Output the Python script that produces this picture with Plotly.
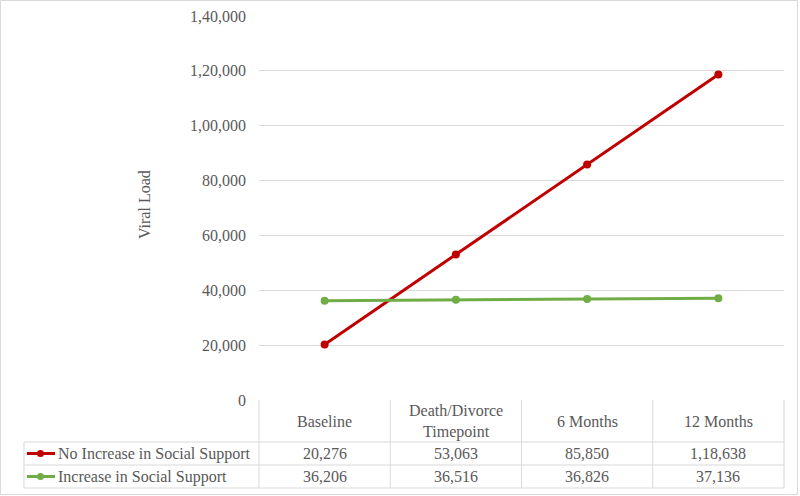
import plotly.graph_objects as go

# chart data
timepoints = ["Baseline", "Death/Divorce<br>Timepoint", "6 Months", "12 Months"]
no_increase = [20276, 53063, 85850, 118638]
with_increase = [36206, 36516, 36826, 37136]
series_names = ["No Increase in Social Support", "Increase in Social Support"]
series_colors = ["#C00000", "#70AD47"]
y_ticks = [0, 20000, 40000, 60000, 80000, 100000, 120000, 140000]

FONT = "Liberation Serif"
GRID = "#D9D9D9"
TXT = "#595959"

W, H = 800, 496
L, R, T, B = 259, 784, 16, 400  # plot area in pixels


def indian(n):
    # Indian digit grouping, e.g. 1,18,638
    s = str(n)
    if len(s) <= 3:
        return s
    last3, rest = s[-3:], s[:-3]
    groups = []
    while len(rest) > 2:
        groups.insert(0, rest[-2:])
        rest = rest[:-2]
    if rest:
        groups.insert(0, rest)
    return ",".join(groups + [last3])


def px(x):
    return (x - L) / (R - L)


def py(y):
    return (B - y) / (B - T)


fig = go.Figure()
for name, vals, col in zip(series_names, [no_increase, with_increase], series_colors):
    fig.add_trace(go.Scatter(
        x=timepoints, y=vals, name=name, mode="lines+markers",
        line=dict(color=col, width=3),
        marker=dict(color=col, size=8),
        showlegend=False,
    ))

shapes = []
line = dict(color=GRID, width=1)
# outer chart border
shapes.append(dict(type="rect", xref="paper", yref="paper",
                   x0=px(0.5), x1=px(797.5), y0=py(0.5), y1=py(494.5), line=line))
# table horizontal rules
for yy in [442, 465, 488]:
    shapes.append(dict(type="line", xref="paper", yref="paper",
                       x0=px(24), x1=px(R), y0=py(yy), y1=py(yy), line=line))
# table vertical rules
shapes.append(dict(type="line", xref="paper", yref="paper",
                   x0=px(24), x1=px(24), y0=py(442), y1=py(488), line=line))
col_w = (R - L) / len(timepoints)
for i in range(len(timepoints) + 1):
    xx = L + i * col_w
    shapes.append(dict(type="line", xref="paper", yref="paper",
                       x0=px(xx), x1=px(xx), y0=py(400), y1=py(488), line=line))

annotations = []
tfont = dict(family=FONT, size=16, color=TXT)
# header + values
for i, tp in enumerate(timepoints):
    annotations.append(dict(x=tp, y=py(421), xref="x", yref="paper", text=tp,
                            showarrow=False, font=tfont, align="center",
                            xanchor="center", yanchor="middle"))
    for vals, yy in [(no_increase, 453.5), (with_increase, 476.5)]:
        annotations.append(dict(x=tp, y=py(yy), xref="x", yref="paper",
                                text=indian(vals[i]), showarrow=False, font=tfont,
                                xanchor="center", yanchor="middle"))
# legend keys in table
for name, col, yy in zip(series_names, series_colors, [453.5, 476.5]):
    shapes.append(dict(type="line", xref="paper", yref="paper",
                       x0=px(27), x1=px(55), y0=py(yy), y1=py(yy),
                       line=dict(color=col, width=3)))
    shapes.append(dict(type="circle", xref="paper", yref="paper",
                       x0=px(37), x1=px(44), y0=py(yy - 3.5), y1=py(yy + 3.5),
                       fillcolor=col, line=dict(color=col, width=0)))
    annotations.append(dict(x=px(56), y=py(yy), xref="paper", yref="paper",
                            text=name, showarrow=False, xanchor="left",
                            yanchor="middle", font=tfont))
# y axis title
annotations.append(dict(x=px(144), y=py(205), xref="paper", yref="paper",
                        text="Viral Load", showarrow=False, textangle=-90,
                        xanchor="center", yanchor="middle", font=tfont))

fig.update_layout(
    width=W, height=H,
    margin=dict(l=L, r=W - R, t=T, b=H - B, autoexpand=False),
    paper_bgcolor="white", plot_bgcolor="white",
    font=dict(family=FONT, size=16, color=TXT),
    xaxis=dict(type="category", range=[-0.5, 3.5], showticklabels=False,
               showgrid=False, zeroline=False, showline=False),
    yaxis=dict(range=[0, 140000], tickvals=y_ticks,
               ticktext=[indian(v) for v in y_ticks],
               showgrid=True, gridcolor=GRID, gridwidth=1, zeroline=False,
               showline=False, ticks="", ticklabelstandoff=12,
               tickfont=dict(family=FONT, size=16, color=TXT)),
    shapes=shapes, annotations=annotations,
    showlegend=False,
)

fig.write_html("out.html", config={"displayModeBar": False},
               post_script="document.body.style.margin='0';")
